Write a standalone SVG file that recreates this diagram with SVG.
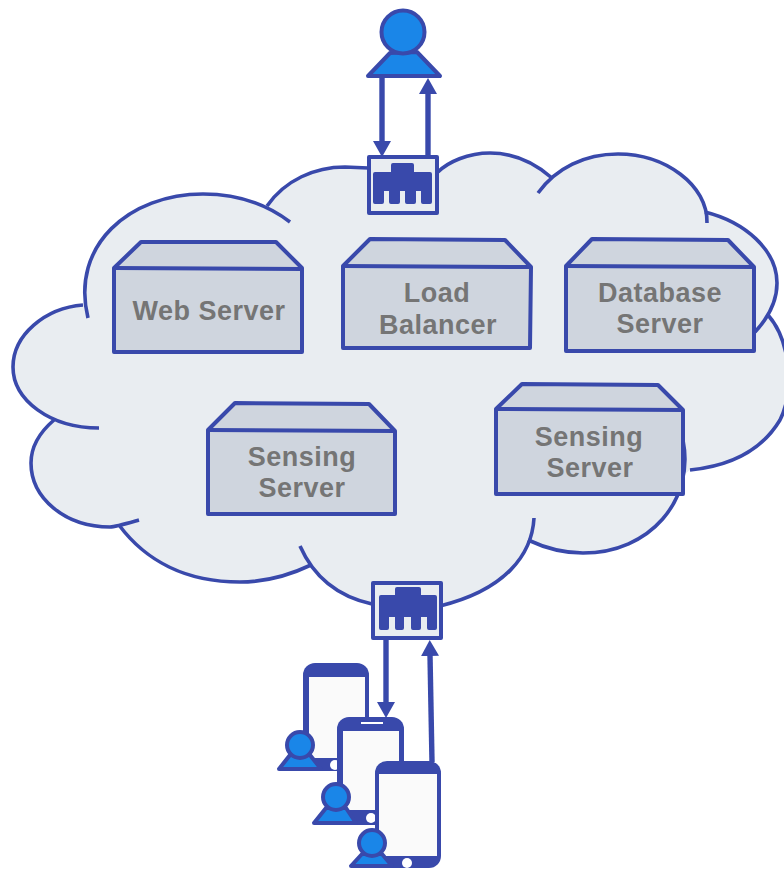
<svg xmlns="http://www.w3.org/2000/svg" width="784" height="869" viewBox="0 0 784 869">
<style>
.lobe{fill:none;stroke:#3949ab;stroke-width:3.6}
.box{fill:#cfd5de;stroke:#3949ab;stroke-width:4;stroke-linejoin:round}
.lbl{font-family:"Liberation Sans",Arial,sans-serif;font-weight:700;font-size:27px;letter-spacing:.5px;fill:#757575;text-anchor:middle}
.sw{fill:#e9edf1;stroke:#3949ab;stroke-width:4;stroke-linejoin:round}
.solid{fill:#3949ab}
.screen{fill:#fafafa}
.white{fill:#fff}
.head{fill:#1a86e8;stroke:#3949ab;stroke-linejoin:round}
.conn{fill:none;stroke:#3949ab;stroke-width:5.4}
</style>
<defs>
<marker id="arrow" markerUnits="userSpaceOnUse" markerWidth="17" markerHeight="20" refX="1" refY="10" orient="auto"><path d="M0 1L16 10L0 19Z" fill="#3949ab"/></marker>
</defs>
<g id="cloud">
<path fill="#e9edf1" d="M88 318L267 206L345 167L368 170L438 172L490 155L552 180L618 156L705 214L768 315L780 420L690 470L583 551L528 542L440 606L372 604L311 567L240 580L119 527L54 422L83 305Z
M88 318C70 245 130 194 203 194C235 194 265 203 290 222Z
M267 206C285 180 315 167 345 167L368 168Z
M438 172C448 162 468 153 490 153C515 153 535 163 552 178Z
M538 193C556 168 585 154 618 154C665 154 708 185 707 223Z
M705 212C745 222 777 250 777 283C777 302 768 318 755 332Z
M768 315C790 340 795 390 780 420C762 450 730 466 690 470Z
M683 440C695 500 650 553 583 553C562 553 545 548 528 540Z
M534 518C532 555 505 590 440 606Z
M372 604C340 597 315 580 300 546Z
M311 565C290 575 265 582 240 582C185 582 145 560 119 525Z
M139 520C125 524 115 527 110 527C65 527 31 498 31 463C31 445 40 432 54 420Z
M99 428C50 428 13 400 13 367C13 335 45 308 83 305Z"/>
<path class="lobe" d="M88 318C70 245 130 194 203 194C235 194 265 203 290 222"/>
<path class="lobe" d="M267 206C285 180 315 167 345 167L368 168"/>
<path class="lobe" d="M438 172C448 162 468 153 490 153C515 153 535 163 552 178"/>
<path class="lobe" d="M538 193C556 168 585 154 618 154C665 154 708 185 707 223"/>
<path class="lobe" d="M705 212C745 222 777 250 777 283C777 302 768 318 755 332"/>
<path class="lobe" d="M768 315C790 340 795 390 780 420C762 450 730 466 690 470"/>
<path class="lobe" d="M683 440C695 500 650 553 583 553C562 553 545 548 528 540"/>
<path class="lobe" d="M534 518C532 555 505 590 440 606"/>
<path class="lobe" d="M372 604C340 597 315 580 300 546"/>
<path class="lobe" d="M311 565C290 575 265 582 240 582C185 582 145 560 119 525"/>
<path class="lobe" d="M139 520C125 524 115 527 110 527C65 527 31 498 31 463C31 445 40 432 54 420"/>
<path class="lobe" d="M99 428C50 428 13 400 13 367C13 335 45 308 83 305"/>
</g>
<g id="web-server">
<path class="box" d="M114 268L141 242L276 242L302 268L302 352L114 352Z"/><path class="box" d="M114 268L302 269" fill="none"/>
<text class="lbl" x="209" y="320">Web Server</text>
</g>
<g id="load-balancer">
<path class="box" d="M343 266L370 239L505 240L531 267L530 348L343 348Z"/><path class="box" d="M343 266L531 267" fill="none"/>
<text class="lbl" x="437" y="302">Load</text><text class="lbl" x="438" y="334">Balancer</text>
</g>
<g id="database-server">
<path class="box" d="M566 266L592 239L728 240L754 267L754 351L566 351Z"/><path class="box" d="M566 266L754 267" fill="none"/>
<text class="lbl" x="660" y="302">Database</text><text class="lbl" x="660" y="333">Server</text>
</g>
<g id="sensing-server-1">
<path class="box" d="M208 430L235 403L369 404L395 431L395 514L208 514Z"/><path class="box" d="M208 430L395 431" fill="none"/>
<text class="lbl" x="302" y="466">Sensing</text><text class="lbl" x="302" y="497">Server</text>
</g>
<g id="sensing-server-2">
<path class="box" d="M496 409L522 384L658 385L683 410L683 494L496 494Z"/><path class="box" d="M496 409L683 410" fill="none"/>
<text class="lbl" x="589" y="446">Sensing</text><text class="lbl" x="590" y="477">Server</text>
</g>
<g id="top-user">
<path class="head" stroke-width="4" d="M390 53L417 52L440 76L368 76Z"/>
<circle class="head" stroke-width="4" cx="403" cy="32" r="21.5"/>
</g>
<g id="phone-1">
<rect class="solid" x="303" y="663" width="66" height="108" rx="12"/>
<rect class="screen" x="309" y="677" width="56" height="81"/>
<circle class="white" cx="335" cy="765" r="5"/>
<path class="head" stroke-width="4" d="M290 755L310 755L321 769L279 769Z"/>
<circle class="head" stroke-width="4" cx="300" cy="745" r="13"/>
</g>
<g id="phone-2">
<rect class="solid" x="337" y="717" width="67" height="108" rx="12"/>
<rect class="screen" x="343" y="731" width="56" height="79"/>
<rect class="white" x="361" y="722" width="22" height="2"/>
<circle class="white" cx="371" cy="818" r="5"/>
<path class="head" stroke-width="4" d="M326 808L346 808L356 823L314 823Z"/>
<circle class="head" stroke-width="4" cx="336" cy="797" r="13"/>
</g>
<g id="phone-3">
<rect class="solid" x="375" y="761" width="66" height="107" rx="12"/>
<rect class="screen" x="379" y="774" width="58" height="82"/>
<circle class="white" cx="407" cy="863" r="5"/>
<path class="head" stroke-width="4" d="M362 854L382 854L392 866L351 866Z"/>
<circle class="head" stroke-width="4" cx="372" cy="843" r="13"/>
</g>
<g id="connectors">
<line class="conn" x1="382" y1="76" x2="382" y2="142" marker-end="url(#arrow)"/>
<line class="conn" x1="428" y1="157" x2="428" y2="93" marker-end="url(#arrow)"/>
<line class="conn" x1="386" y1="638" x2="386" y2="703" marker-end="url(#arrow)"/>
<line class="conn" x1="432" y1="762" x2="430" y2="655" marker-end="url(#arrow)"/>
</g>
<g id="top-switch">
<rect class="sw" x="369" y="157" width="68" height="56"/>
<path class="solid" d="M373 174Q373 172 375 172L391 172L391 165Q391 163 393 163L412 163Q414 163 414 165L414 172L430 172Q432 172 432 174L432 202Q432 204 430 204L423 204Q421 204 421 202L421 191L416 191L416 202Q416 204 414 204L407 204Q405 204 405 202L405 191L400 191L400 202Q400 204 398 204L391 204Q389 204 389 202L389 191L384 191L384 202Q384 204 382 204L375 204Q373 204 373 202Z"/>
</g>
<g id="bottom-switch">
<rect class="sw" x="373" y="583" width="68" height="55"/>
<path class="solid" d="M379 597Q379 595 381 595L395 595L395 589Q395 587 397 587L419 587Q421 587 421 589L421 595L435 595Q437 595 437 597L437 628Q437 630 435 630L429 630Q427 630 427 628L427 617L421 617L421 628Q421 630 419 630L413 630Q411 630 411 628L411 617L404 617L404 628Q404 630 402 630L397 630Q395 630 395 628L395 617L389 617L389 628Q389 630 387 630L381 630Q379 630 379 628Z"/>
</g>
</svg>
